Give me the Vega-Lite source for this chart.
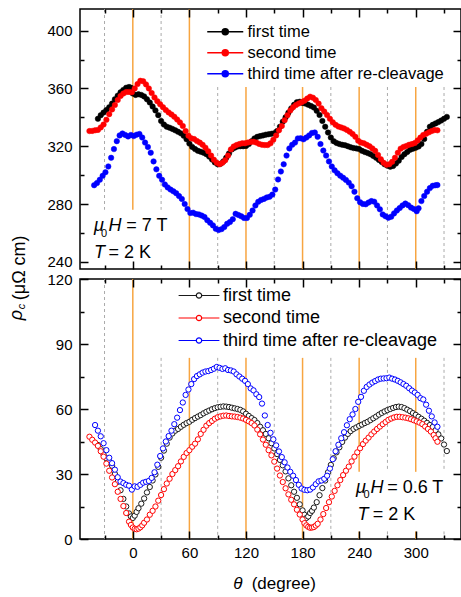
{
"$schema":"https://vega.github.io/schema/vega-lite/v6.json",
"padding":{"left":7,"top":7,"right":0,"bottom":0},
"background":"white",
"config":{"view":{"stroke":"#000","strokeWidth":1.5},"font":"Liberation Sans"},
"spacing":10,
"bounds":"flush",
"datasets":{
"top":[
{"s":"a","x":-37,"y":339.0},{"s":"a","x":-34,"y":341.5},{"s":"a","x":-31,"y":343.3},{"s":"a","x":-28,"y":345.0},{"s":"a","x":-25,"y":347.0},{"s":"a","x":-22,"y":349.5},{"s":"a","x":-19,"y":352.5},{"s":"a","x":-16,"y":355.0},{"s":"a","x":-13,"y":357.3},{"s":"a","x":-10,"y":359.0},{"s":"a","x":-7,"y":360.5},{"s":"a","x":-4,"y":361.0},{"s":"a","x":-2,"y":360.5},{"s":"a","x":0,"y":356.5},{"s":"a","x":3,"y":355.5},{"s":"a","x":6,"y":356.0},{"s":"a","x":9,"y":355.5},{"s":"a","x":12,"y":354.5},{"s":"a","x":15,"y":352.5},{"s":"a","x":18,"y":350.3},{"s":"a","x":21,"y":347.5},{"s":"a","x":24,"y":344.8},{"s":"a","x":27,"y":341.5},{"s":"a","x":30,"y":337.5},{"s":"a","x":33,"y":335.0},{"s":"a","x":36,"y":333.5},{"s":"a","x":39,"y":332.8},{"s":"a","x":42,"y":332.0},{"s":"a","x":45,"y":331.0},{"s":"a","x":48,"y":330.0},{"s":"a","x":51,"y":328.9},{"s":"a","x":54,"y":327.2},{"s":"a","x":57,"y":324.8},{"s":"a","x":60,"y":321.8},{"s":"a","x":63,"y":319.5},{"s":"a","x":66,"y":318.0},{"s":"a","x":69,"y":316.8},{"s":"a","x":72,"y":316.2},{"s":"a","x":75,"y":315.5},{"s":"a","x":78,"y":314.5},{"s":"a","x":81,"y":312.8},{"s":"a","x":84,"y":310.8},{"s":"a","x":87,"y":308.8},{"s":"a","x":90,"y":307.5},{"s":"a","x":93,"y":307.8},{"s":"a","x":96,"y":309.5},{"s":"a","x":99,"y":312.0},{"s":"a","x":102,"y":315.0},{"s":"a","x":105,"y":317.8},{"s":"a","x":108,"y":319.0},{"s":"a","x":111,"y":319.8},{"s":"a","x":114,"y":320.0},{"s":"a","x":117,"y":320.0},{"s":"a","x":120,"y":320.2},{"s":"a","x":123,"y":321.5},{"s":"a","x":126,"y":323.5},{"s":"a","x":129,"y":325.4},{"s":"a","x":132,"y":326.5},{"s":"a","x":135,"y":327.0},{"s":"a","x":138,"y":327.5},{"s":"a","x":141,"y":328.0},{"s":"a","x":144,"y":328.3},{"s":"a","x":147,"y":328.6},{"s":"a","x":150,"y":329.0},{"s":"a","x":153,"y":330.5},{"s":"a","x":156,"y":333.5},{"s":"a","x":159,"y":337.0},{"s":"a","x":162,"y":340.0},{"s":"a","x":165,"y":343.2},{"s":"a","x":168,"y":346.2},{"s":"a","x":171,"y":348.7},{"s":"a","x":174,"y":350.5},{"s":"a","x":177,"y":350.8},{"s":"a","x":180,"y":350.0},{"s":"a","x":183,"y":349.5},{"s":"a","x":186,"y":348.7},{"s":"a","x":189,"y":347.8},{"s":"a","x":192,"y":346.8},{"s":"a","x":195,"y":344.5},{"s":"a","x":198,"y":341.6},{"s":"a","x":201,"y":337.5},{"s":"a","x":204,"y":333.5},{"s":"a","x":207,"y":329.5},{"s":"a","x":210,"y":326.0},{"s":"a","x":213,"y":323.5},{"s":"a","x":216,"y":322.3},{"s":"a","x":219,"y":321.5},{"s":"a","x":222,"y":321.0},{"s":"a","x":225,"y":320.7},{"s":"a","x":228,"y":320.0},{"s":"a","x":231,"y":319.3},{"s":"a","x":234,"y":318.7},{"s":"a","x":237,"y":318.5},{"s":"a","x":240,"y":318.0},{"s":"a","x":243,"y":316.8},{"s":"a","x":246,"y":316.0},{"s":"a","x":249,"y":315.3},{"s":"a","x":252,"y":314.5},{"s":"a","x":255,"y":313.3},{"s":"a","x":258,"y":312.0},{"s":"a","x":261,"y":310.5},{"s":"a","x":264,"y":309.0},{"s":"a","x":267,"y":307.5},{"s":"a","x":270,"y":306.5},{"s":"a","x":273,"y":305.8},{"s":"a","x":276,"y":306.3},{"s":"a","x":279,"y":308.0},{"s":"a","x":282,"y":310.0},{"s":"a","x":285,"y":312.5},{"s":"a","x":288,"y":314.5},{"s":"a","x":291,"y":316.0},{"s":"a","x":294,"y":317.5},{"s":"a","x":297,"y":318.3},{"s":"a","x":300,"y":319.0},{"s":"a","x":303,"y":319.8},{"s":"a","x":306,"y":321.5},{"s":"a","x":309,"y":325.0},{"s":"a","x":312,"y":330.0},{"s":"a","x":315,"y":333.5},{"s":"a","x":318,"y":334.8},{"s":"a","x":321,"y":335.8},{"s":"a","x":324,"y":336.7},{"s":"a","x":327,"y":337.8},{"s":"a","x":330,"y":339.0},{"s":"a","x":333,"y":340.3},
{"s":"b","x":-46,"y":330.5},{"s":"b","x":-43,"y":330.6},{"s":"b","x":-40,"y":331.0},{"s":"b","x":-37,"y":331.3},{"s":"b","x":-34,"y":333.0},{"s":"b","x":-31,"y":335.0},{"s":"b","x":-28,"y":338.3},{"s":"b","x":-25,"y":342.2},{"s":"b","x":-22,"y":345.5},{"s":"b","x":-19,"y":348.5},{"s":"b","x":-16,"y":352.0},{"s":"b","x":-13,"y":354.8},{"s":"b","x":-10,"y":356.5},{"s":"b","x":-7,"y":357.5},{"s":"b","x":-4,"y":357.6},{"s":"b","x":-1,"y":357.3},{"s":"b","x":2,"y":360.0},{"s":"b","x":5,"y":363.0},{"s":"b","x":8,"y":365.3},{"s":"b","x":11,"y":365.0},{"s":"b","x":14,"y":362.8},{"s":"b","x":17,"y":360.0},{"s":"b","x":20,"y":356.8},{"s":"b","x":23,"y":353.8},{"s":"b","x":26,"y":351.2},{"s":"b","x":29,"y":349.0},{"s":"b","x":32,"y":347.0},{"s":"b","x":35,"y":345.0},{"s":"b","x":38,"y":343.4},{"s":"b","x":41,"y":342.0},{"s":"b","x":44,"y":340.4},{"s":"b","x":47,"y":338.5},{"s":"b","x":50,"y":336.5},{"s":"b","x":53,"y":334.0},{"s":"b","x":56,"y":330.5},{"s":"b","x":59,"y":327.3},{"s":"b","x":62,"y":325.5},{"s":"b","x":65,"y":325.0},{"s":"b","x":68,"y":323.6},{"s":"b","x":71,"y":322.5},{"s":"b","x":74,"y":321.0},{"s":"b","x":77,"y":319.0},{"s":"b","x":80,"y":316.5},{"s":"b","x":83,"y":313.5},{"s":"b","x":86,"y":310.7},{"s":"b","x":89,"y":308.5},{"s":"b","x":92,"y":307.5},{"s":"b","x":95,"y":308.5},{"s":"b","x":98,"y":310.3},{"s":"b","x":101,"y":313.5},{"s":"b","x":104,"y":317.8},{"s":"b","x":107,"y":319.8},{"s":"b","x":110,"y":320.8},{"s":"b","x":113,"y":321.5},{"s":"b","x":116,"y":322.0},{"s":"b","x":119,"y":322.0},{"s":"b","x":122,"y":322.5},{"s":"b","x":125,"y":323.0},{"s":"b","x":128,"y":323.1},{"s":"b","x":131,"y":322.5},{"s":"b","x":134,"y":321.6},{"s":"b","x":137,"y":321.0},{"s":"b","x":140,"y":320.8},{"s":"b","x":143,"y":320.8},{"s":"b","x":146,"y":322.0},{"s":"b","x":149,"y":324.5},{"s":"b","x":152,"y":327.5},{"s":"b","x":155,"y":331.0},{"s":"b","x":158,"y":334.0},{"s":"b","x":161,"y":338.0},{"s":"b","x":164,"y":341.5},{"s":"b","x":167,"y":344.8},{"s":"b","x":170,"y":347.0},{"s":"b","x":173,"y":348.5},{"s":"b","x":176,"y":349.6},{"s":"b","x":179,"y":350.5},{"s":"b","x":182,"y":351.5},{"s":"b","x":185,"y":353.0},{"s":"b","x":188,"y":354.3},{"s":"b","x":191,"y":353.6},{"s":"b","x":194,"y":352.0},{"s":"b","x":197,"y":349.5},{"s":"b","x":200,"y":346.3},{"s":"b","x":203,"y":344.0},{"s":"b","x":206,"y":341.6},{"s":"b","x":209,"y":339.0},{"s":"b","x":212,"y":336.6},{"s":"b","x":215,"y":334.8},{"s":"b","x":218,"y":333.6},{"s":"b","x":221,"y":333.0},{"s":"b","x":224,"y":332.3},{"s":"b","x":227,"y":331.3},{"s":"b","x":230,"y":330.0},{"s":"b","x":233,"y":328.5},{"s":"b","x":236,"y":326.5},{"s":"b","x":239,"y":323.8},{"s":"b","x":242,"y":322.5},{"s":"b","x":245,"y":322.0},{"s":"b","x":248,"y":321.0},{"s":"b","x":251,"y":320.0},{"s":"b","x":254,"y":318.5},{"s":"b","x":257,"y":316.8},{"s":"b","x":260,"y":314.0},{"s":"b","x":263,"y":311.0},{"s":"b","x":266,"y":308.5},{"s":"b","x":269,"y":307.2},{"s":"b","x":272,"y":307.5},{"s":"b","x":275,"y":309.2},{"s":"b","x":278,"y":312.0},{"s":"b","x":281,"y":315.5},{"s":"b","x":284,"y":318.3},{"s":"b","x":287,"y":319.5},{"s":"b","x":290,"y":320.2},{"s":"b","x":293,"y":321.0},{"s":"b","x":296,"y":321.5},{"s":"b","x":299,"y":322.2},{"s":"b","x":302,"y":324.0},{"s":"b","x":305,"y":326.0},{"s":"b","x":308,"y":327.8},{"s":"b","x":311,"y":328.6},{"s":"b","x":314,"y":329.6},{"s":"b","x":317,"y":330.5},{"s":"b","x":320,"y":331.2},{"s":"b","x":323,"y":331.0},
{"s":"c","x":-41,"y":293.0},{"s":"c","x":-38,"y":294.5},{"s":"c","x":-35,"y":296.8},{"s":"c","x":-32,"y":299.5},{"s":"c","x":-29,"y":302.0},{"s":"c","x":-26,"y":306.0},{"s":"c","x":-23,"y":312.0},{"s":"c","x":-20,"y":318.0},{"s":"c","x":-17,"y":323.5},{"s":"c","x":-14,"y":327.5},{"s":"c","x":-11,"y":328.8},{"s":"c","x":-8,"y":327.8},{"s":"c","x":-5,"y":326.8},{"s":"c","x":-2,"y":327.8},{"s":"c","x":1,"y":327.0},{"s":"c","x":4,"y":328.0},{"s":"c","x":7,"y":328.5},{"s":"c","x":10,"y":326.0},{"s":"c","x":13,"y":322.5},{"s":"c","x":16,"y":319.5},{"s":"c","x":19,"y":315.5},{"s":"c","x":22,"y":309.5},{"s":"c","x":25,"y":304.0},{"s":"c","x":28,"y":299.5},{"s":"c","x":31,"y":296.8},{"s":"c","x":34,"y":293.5},{"s":"c","x":37,"y":291.5},{"s":"c","x":40,"y":290.0},{"s":"c","x":43,"y":288.8},{"s":"c","x":46,"y":287.5},{"s":"c","x":49,"y":285.5},{"s":"c","x":52,"y":283.5},{"s":"c","x":55,"y":280.0},{"s":"c","x":58,"y":276.5},{"s":"c","x":61,"y":273.8},{"s":"c","x":64,"y":274.0},{"s":"c","x":67,"y":273.0},{"s":"c","x":70,"y":272.8},{"s":"c","x":73,"y":272.0},{"s":"c","x":76,"y":271.0},{"s":"c","x":79,"y":268.8},{"s":"c","x":82,"y":267.0},{"s":"c","x":85,"y":265.2},{"s":"c","x":88,"y":262.8},{"s":"c","x":91,"y":262.0},{"s":"c","x":94,"y":262.6},{"s":"c","x":97,"y":264.0},{"s":"c","x":100,"y":266.3},{"s":"c","x":103,"y":267.5},{"s":"c","x":106,"y":269.5},{"s":"c","x":109,"y":273.2},{"s":"c","x":112,"y":272.4},{"s":"c","x":115,"y":271.5},{"s":"c","x":118,"y":270.3},{"s":"c","x":121,"y":270.3},{"s":"c","x":124,"y":272.5},{"s":"c","x":127,"y":275.5},{"s":"c","x":130,"y":279.0},{"s":"c","x":133,"y":281.5},{"s":"c","x":136,"y":282.8},{"s":"c","x":139,"y":283.5},{"s":"c","x":142,"y":284.5},{"s":"c","x":145,"y":285.0},{"s":"c","x":148,"y":286.5},{"s":"c","x":151,"y":290.0},{"s":"c","x":154,"y":297.0},{"s":"c","x":157,"y":302.5},{"s":"c","x":160,"y":307.5},{"s":"c","x":163,"y":313.5},{"s":"c","x":166,"y":318.5},{"s":"c","x":169,"y":321.0},{"s":"c","x":172,"y":322.5},{"s":"c","x":175,"y":325.4},{"s":"c","x":178,"y":325.5},{"s":"c","x":181,"y":324.8},{"s":"c","x":184,"y":326.0},{"s":"c","x":187,"y":327.5},{"s":"c","x":190,"y":329.2},{"s":"c","x":193,"y":329.5},{"s":"c","x":196,"y":326.5},{"s":"c","x":199,"y":321.5},{"s":"c","x":202,"y":317.0},{"s":"c","x":205,"y":313.5},{"s":"c","x":208,"y":309.5},{"s":"c","x":211,"y":306.0},{"s":"c","x":214,"y":303.3},{"s":"c","x":217,"y":301.3},{"s":"c","x":220,"y":299.6},{"s":"c","x":223,"y":298.2},{"s":"c","x":226,"y":296.7},{"s":"c","x":229,"y":294.8},{"s":"c","x":232,"y":292.3},{"s":"c","x":235,"y":288.5},{"s":"c","x":238,"y":284.0},{"s":"c","x":241,"y":281.2},{"s":"c","x":244,"y":280.0},{"s":"c","x":247,"y":279.8},{"s":"c","x":250,"y":281.0},{"s":"c","x":253,"y":282.0},{"s":"c","x":256,"y":281.6},{"s":"c","x":259,"y":279.0},{"s":"c","x":262,"y":276.3},{"s":"c","x":265,"y":272.8},{"s":"c","x":268,"y":271.5},{"s":"c","x":271,"y":270.5},{"s":"c","x":274,"y":271.2},{"s":"c","x":277,"y":273.5},{"s":"c","x":280,"y":275.5},{"s":"c","x":283,"y":277.2},{"s":"c","x":286,"y":279.0},{"s":"c","x":289,"y":280.3},{"s":"c","x":292,"y":279.2},{"s":"c","x":295,"y":277.5},{"s":"c","x":298,"y":276.6},{"s":"c","x":301,"y":275.0},{"s":"c","x":303,"y":277.0},{"s":"c","x":306,"y":282.0},{"s":"c","x":309,"y":285.5},{"s":"c","x":312,"y":288.5},{"s":"c","x":315,"y":291.0},{"s":"c","x":318,"y":292.6},{"s":"c","x":321,"y":293.0},{"s":"c","x":323,"y":293.1}
],
"bot":[
{"s":"a","x":-37,"y":43.4},{"s":"a","x":-34,"y":41.5},{"s":"a","x":-31,"y":39.0},{"s":"a","x":-28,"y":37.2},{"s":"a","x":-25,"y":35.8},{"s":"a","x":-22,"y":33.8},{"s":"a","x":-19,"y":30.0},{"s":"a","x":-16,"y":26.4},{"s":"a","x":-13,"y":22.5},{"s":"a","x":-10,"y":18.5},{"s":"a","x":-7,"y":15.0},{"s":"a","x":-4,"y":11.8},{"s":"a","x":-2,"y":10.4},{"s":"a","x":0,"y":9.7},{"s":"a","x":2,"y":10.8},{"s":"a","x":4,"y":12.5},{"s":"a","x":6,"y":14.2},{"s":"a","x":9,"y":16.3},{"s":"a","x":12,"y":18.7},{"s":"a","x":15,"y":21.5},{"s":"a","x":18,"y":24.0},{"s":"a","x":21,"y":27.0},{"s":"a","x":24,"y":29.8},{"s":"a","x":27,"y":33.3},{"s":"a","x":30,"y":37.5},{"s":"a","x":33,"y":40.8},{"s":"a","x":36,"y":44.0},{"s":"a","x":39,"y":46.8},{"s":"a","x":42,"y":48.7},{"s":"a","x":45,"y":50.0},{"s":"a","x":48,"y":50.8},{"s":"a","x":51,"y":51.8},{"s":"a","x":54,"y":52.7},{"s":"a","x":57,"y":53.5},{"s":"a","x":60,"y":54.1},{"s":"a","x":63,"y":55.0},{"s":"a","x":66,"y":55.8},{"s":"a","x":69,"y":56.5},{"s":"a","x":72,"y":57.2},{"s":"a","x":75,"y":58.0},{"s":"a","x":78,"y":58.7},{"s":"a","x":81,"y":59.3},{"s":"a","x":84,"y":59.9},{"s":"a","x":87,"y":60.4},{"s":"a","x":90,"y":60.8},{"s":"a","x":93,"y":61.0},{"s":"a","x":96,"y":61.2},{"s":"a","x":99,"y":61.1},{"s":"a","x":102,"y":60.9},{"s":"a","x":105,"y":60.6},{"s":"a","x":108,"y":60.3},{"s":"a","x":111,"y":60.0},{"s":"a","x":114,"y":59.6},{"s":"a","x":117,"y":58.9},{"s":"a","x":120,"y":57.8},{"s":"a","x":123,"y":56.8},{"s":"a","x":126,"y":55.8},{"s":"a","x":129,"y":54.9},{"s":"a","x":132,"y":53.5},{"s":"a","x":135,"y":51.8},{"s":"a","x":138,"y":50.2},{"s":"a","x":141,"y":48.5},{"s":"a","x":144,"y":46.5},{"s":"a","x":147,"y":44.2},{"s":"a","x":150,"y":41.8},{"s":"a","x":153,"y":39.2},{"s":"a","x":156,"y":36.5},{"s":"a","x":159,"y":34.0},{"s":"a","x":162,"y":31.2},{"s":"a","x":165,"y":28.0},{"s":"a","x":168,"y":24.8},{"s":"a","x":171,"y":21.8},{"s":"a","x":174,"y":19.0},{"s":"a","x":177,"y":16.0},{"s":"a","x":180,"y":13.2},{"s":"a","x":182,"y":11.2},{"s":"a","x":184,"y":9.7},{"s":"a","x":186,"y":10.4},{"s":"a","x":188,"y":12.0},{"s":"a","x":190,"y":13.0},{"s":"a","x":192,"y":14.5},{"s":"a","x":195,"y":17.0},{"s":"a","x":198,"y":20.2},{"s":"a","x":201,"y":23.5},{"s":"a","x":204,"y":27.0},{"s":"a","x":207,"y":30.8},{"s":"a","x":210,"y":34.2},{"s":"a","x":213,"y":37.3},{"s":"a","x":216,"y":40.0},{"s":"a","x":219,"y":42.3},{"s":"a","x":222,"y":44.8},{"s":"a","x":225,"y":46.8},{"s":"a","x":228,"y":48.5},{"s":"a","x":231,"y":49.8},{"s":"a","x":234,"y":50.8},{"s":"a","x":237,"y":51.5},{"s":"a","x":240,"y":52.2},{"s":"a","x":243,"y":52.8},{"s":"a","x":246,"y":53.5},{"s":"a","x":249,"y":54.1},{"s":"a","x":252,"y":54.9},{"s":"a","x":255,"y":55.7},{"s":"a","x":258,"y":56.5},{"s":"a","x":261,"y":57.4},{"s":"a","x":264,"y":58.2},{"s":"a","x":267,"y":58.9},{"s":"a","x":270,"y":59.5},{"s":"a","x":273,"y":60.0},{"s":"a","x":276,"y":60.5},{"s":"a","x":279,"y":60.9},{"s":"a","x":282,"y":61.1},{"s":"a","x":285,"y":60.9},{"s":"a","x":288,"y":60.4},{"s":"a","x":291,"y":59.7},{"s":"a","x":294,"y":59.0},{"s":"a","x":297,"y":58.1},{"s":"a","x":300,"y":57.3},{"s":"a","x":303,"y":56.4},{"s":"a","x":306,"y":55.5},{"s":"a","x":309,"y":54.6},{"s":"a","x":312,"y":53.6},{"s":"a","x":315,"y":52.6},{"s":"a","x":318,"y":51.7},{"s":"a","x":321,"y":50.2},{"s":"a","x":324,"y":48.3},{"s":"a","x":327,"y":46.4},{"s":"a","x":330,"y":43.6},{"s":"a","x":333,"y":40.6},
{"s":"b","x":-46,"y":47.2},{"s":"b","x":-43,"y":45.8},{"s":"b","x":-40,"y":44.5},{"s":"b","x":-37,"y":43.0},{"s":"b","x":-34,"y":40.5},{"s":"b","x":-31,"y":38.0},{"s":"b","x":-28,"y":34.8},{"s":"b","x":-25,"y":31.5},{"s":"b","x":-22,"y":28.4},{"s":"b","x":-19,"y":25.3},{"s":"b","x":-16,"y":21.8},{"s":"b","x":-13,"y":18.5},{"s":"b","x":-10,"y":15.2},{"s":"b","x":-7,"y":12.0},{"s":"b","x":-4,"y":8.0},{"s":"b","x":-2,"y":6.5},{"s":"b","x":0,"y":5.3},{"s":"b","x":2,"y":4.7},{"s":"b","x":4,"y":4.5},{"s":"b","x":6,"y":4.8},{"s":"b","x":8,"y":5.4},{"s":"b","x":10,"y":6.3},{"s":"b","x":12,"y":7.5},{"s":"b","x":15,"y":9.0},{"s":"b","x":18,"y":11.2},{"s":"b","x":21,"y":13.0},{"s":"b","x":24,"y":15.0},{"s":"b","x":27,"y":17.7},{"s":"b","x":30,"y":20.3},{"s":"b","x":33,"y":23.0},{"s":"b","x":36,"y":25.6},{"s":"b","x":39,"y":27.8},{"s":"b","x":42,"y":30.0},{"s":"b","x":45,"y":31.8},{"s":"b","x":48,"y":33.6},{"s":"b","x":51,"y":35.8},{"s":"b","x":54,"y":37.9},{"s":"b","x":57,"y":39.7},{"s":"b","x":60,"y":41.0},{"s":"b","x":63,"y":42.6},{"s":"b","x":66,"y":44.0},{"s":"b","x":69,"y":46.0},{"s":"b","x":72,"y":48.5},{"s":"b","x":75,"y":50.4},{"s":"b","x":78,"y":52.3},{"s":"b","x":81,"y":53.5},{"s":"b","x":84,"y":54.5},{"s":"b","x":87,"y":55.5},{"s":"b","x":90,"y":56.2},{"s":"b","x":93,"y":56.6},{"s":"b","x":96,"y":56.9},{"s":"b","x":99,"y":57.0},{"s":"b","x":102,"y":56.8},{"s":"b","x":105,"y":56.6},{"s":"b","x":108,"y":56.5},{"s":"b","x":111,"y":56.3},{"s":"b","x":114,"y":56.0},{"s":"b","x":117,"y":55.6},{"s":"b","x":120,"y":55.0},{"s":"b","x":123,"y":54.3},{"s":"b","x":126,"y":53.5},{"s":"b","x":129,"y":52.4},{"s":"b","x":132,"y":50.5},{"s":"b","x":135,"y":48.3},{"s":"b","x":138,"y":45.9},{"s":"b","x":141,"y":43.5},{"s":"b","x":144,"y":41.0},{"s":"b","x":147,"y":38.6},{"s":"b","x":150,"y":35.7},{"s":"b","x":153,"y":32.5},{"s":"b","x":156,"y":29.3},{"s":"b","x":159,"y":26.3},{"s":"b","x":162,"y":23.4},{"s":"b","x":165,"y":20.6},{"s":"b","x":168,"y":18.1},{"s":"b","x":171,"y":16.0},{"s":"b","x":174,"y":13.5},{"s":"b","x":177,"y":11.3},{"s":"b","x":180,"y":9.0},{"s":"b","x":182,"y":7.3},{"s":"b","x":184,"y":6.3},{"s":"b","x":186,"y":5.6},{"s":"b","x":188,"y":5.2},{"s":"b","x":190,"y":5.3},{"s":"b","x":192,"y":5.5},{"s":"b","x":194,"y":6.2},{"s":"b","x":196,"y":7.0},{"s":"b","x":199,"y":9.0},{"s":"b","x":202,"y":11.5},{"s":"b","x":205,"y":14.3},{"s":"b","x":208,"y":17.0},{"s":"b","x":211,"y":19.6},{"s":"b","x":214,"y":22.2},{"s":"b","x":217,"y":24.8},{"s":"b","x":220,"y":27.2},{"s":"b","x":223,"y":29.5},{"s":"b","x":226,"y":31.5},{"s":"b","x":229,"y":33.4},{"s":"b","x":232,"y":35.8},{"s":"b","x":235,"y":38.0},{"s":"b","x":238,"y":40.0},{"s":"b","x":241,"y":41.9},{"s":"b","x":244,"y":43.8},{"s":"b","x":247,"y":45.4},{"s":"b","x":250,"y":46.8},{"s":"b","x":253,"y":48.3},{"s":"b","x":256,"y":49.6},{"s":"b","x":259,"y":50.8},{"s":"b","x":262,"y":51.9},{"s":"b","x":265,"y":53.0},{"s":"b","x":268,"y":54.0},{"s":"b","x":271,"y":55.0},{"s":"b","x":274,"y":55.6},{"s":"b","x":277,"y":56.1},{"s":"b","x":280,"y":56.4},{"s":"b","x":283,"y":56.4},{"s":"b","x":286,"y":56.2},{"s":"b","x":289,"y":56.0},{"s":"b","x":292,"y":55.7},{"s":"b","x":295,"y":55.3},{"s":"b","x":298,"y":54.8},{"s":"b","x":301,"y":54.3},{"s":"b","x":304,"y":53.7},{"s":"b","x":307,"y":53.0},{"s":"b","x":310,"y":51.9},{"s":"b","x":313,"y":50.8},{"s":"b","x":316,"y":49.6},{"s":"b","x":319,"y":48.0},{"s":"b","x":321,"y":46.5},{"s":"b","x":323,"y":44.9},
{"s":"c","x":-40,"y":52.6},{"s":"c","x":-37,"y":50.0},{"s":"c","x":-34,"y":47.4},{"s":"c","x":-31,"y":44.2},{"s":"c","x":-28,"y":41.0},{"s":"c","x":-25,"y":37.5},{"s":"c","x":-22,"y":35.0},{"s":"c","x":-19,"y":32.0},{"s":"c","x":-16,"y":28.5},{"s":"c","x":-13,"y":26.5},{"s":"c","x":-10,"y":25.8},{"s":"c","x":-7,"y":25.0},{"s":"c","x":-4,"y":24.6},{"s":"c","x":-1,"y":22.8},{"s":"c","x":2,"y":24.3},{"s":"c","x":5,"y":24.1},{"s":"c","x":8,"y":25.0},{"s":"c","x":11,"y":26.0},{"s":"c","x":14,"y":26.4},{"s":"c","x":17,"y":26.8},{"s":"c","x":20,"y":28.2},{"s":"c","x":23,"y":30.8},{"s":"c","x":26,"y":34.3},{"s":"c","x":29,"y":38.3},{"s":"c","x":32,"y":41.8},{"s":"c","x":35,"y":45.0},{"s":"c","x":38,"y":47.5},{"s":"c","x":41,"y":50.0},{"s":"c","x":44,"y":53.0},{"s":"c","x":47,"y":56.0},{"s":"c","x":50,"y":59.5},{"s":"c","x":53,"y":63.0},{"s":"c","x":56,"y":66.5},{"s":"c","x":59,"y":69.0},{"s":"c","x":62,"y":71.5},{"s":"c","x":65,"y":73.8},{"s":"c","x":68,"y":75.2},{"s":"c","x":71,"y":76.0},{"s":"c","x":74,"y":76.8},{"s":"c","x":77,"y":77.3},{"s":"c","x":80,"y":77.5},{"s":"c","x":83,"y":78.0},{"s":"c","x":86,"y":78.6},{"s":"c","x":89,"y":79.4},{"s":"c","x":92,"y":79.0},{"s":"c","x":95,"y":78.5},{"s":"c","x":98,"y":78.8},{"s":"c","x":101,"y":78.0},{"s":"c","x":104,"y":77.8},{"s":"c","x":107,"y":77.3},{"s":"c","x":110,"y":76.0},{"s":"c","x":113,"y":75.0},{"s":"c","x":116,"y":74.0},{"s":"c","x":119,"y":73.0},{"s":"c","x":122,"y":71.5},{"s":"c","x":125,"y":69.5},{"s":"c","x":128,"y":68.6},{"s":"c","x":131,"y":66.8},{"s":"c","x":134,"y":65.5},{"s":"c","x":137,"y":62.5},{"s":"c","x":140,"y":57.0},{"s":"c","x":143,"y":52.6},{"s":"c","x":146,"y":49.0},{"s":"c","x":149,"y":46.0},{"s":"c","x":152,"y":43.2},{"s":"c","x":155,"y":40.4},{"s":"c","x":158,"y":37.8},{"s":"c","x":161,"y":35.4},{"s":"c","x":164,"y":33.0},{"s":"c","x":167,"y":31.0},{"s":"c","x":170,"y":29.2},{"s":"c","x":173,"y":27.2},{"s":"c","x":176,"y":25.0},{"s":"c","x":179,"y":23.3},{"s":"c","x":182,"y":22.7},{"s":"c","x":185,"y":22.5},{"s":"c","x":188,"y":22.8},{"s":"c","x":191,"y":23.8},{"s":"c","x":194,"y":25.3},{"s":"c","x":197,"y":26.6},{"s":"c","x":200,"y":27.0},{"s":"c","x":203,"y":27.8},{"s":"c","x":206,"y":29.2},{"s":"c","x":209,"y":32.5},{"s":"c","x":212,"y":36.8},{"s":"c","x":215,"y":40.5},{"s":"c","x":218,"y":43.5},{"s":"c","x":221,"y":46.5},{"s":"c","x":224,"y":49.3},{"s":"c","x":227,"y":52.5},{"s":"c","x":230,"y":55.3},{"s":"c","x":233,"y":57.5},{"s":"c","x":236,"y":60.0},{"s":"c","x":239,"y":63.3},{"s":"c","x":242,"y":65.6},{"s":"c","x":245,"y":68.4},{"s":"c","x":248,"y":70.2},{"s":"c","x":251,"y":71.3},{"s":"c","x":254,"y":72.2},{"s":"c","x":257,"y":72.9},{"s":"c","x":260,"y":73.6},{"s":"c","x":263,"y":74.0},{"s":"c","x":266,"y":74.1},{"s":"c","x":269,"y":74.2},{"s":"c","x":272,"y":74.5},{"s":"c","x":275,"y":74.0},{"s":"c","x":278,"y":73.6},{"s":"c","x":281,"y":73.0},{"s":"c","x":284,"y":72.3},{"s":"c","x":287,"y":71.5},{"s":"c","x":290,"y":70.7},{"s":"c","x":293,"y":69.6},{"s":"c","x":296,"y":68.5},{"s":"c","x":299,"y":67.6},{"s":"c","x":302,"y":66.5},{"s":"c","x":305,"y":65.0},{"s":"c","x":308,"y":64.4},{"s":"c","x":311,"y":62.0},{"s":"c","x":314,"y":59.2},{"s":"c","x":317,"y":56.6},{"s":"c","x":320,"y":53.8},{"s":"c","x":323,"y":51.8}
]
},
"resolve":{"scale":{"fill":"independent","stroke":"independent"},"legend":{"fill":"independent","stroke":"independent"}},
"vconcat":[
{
"width":381,"height":260,
"resolve":{"axis":{"x":"independent","y":"independent"}},
"layer":[
{"data":{"values":[{"x":0,"y":415,"y2":276},{"x":60,"y":415,"y2":235},{"x":120,"y":361,"y2":235},{"x":180,"y":361,"y2":235},{"x":240,"y":361,"y2":235},{"x":300,"y":361,"y2":235}]},
"mark":{"type":"rule","color":"#F7A541","strokeWidth":1.5},
"encoding":{
"x":{"field":"x","type":"quantitative","scale":{"domain":[-56,348],"nice":false,"zero":false},"axis":{"orient":"bottom","values":[-30,0,30,60,90,120,150,180,210,240,270,300,330],"labels":false,"title":null,"domain":false,"grid":false,"tickColor":"#000","tickWidth":1.5,"tickSize":{"condition":{"test":"datum.value % 60 === 0","value":-8},"value":-4},"zindex":1}},
"y":{"field":"y","type":"quantitative","scale":{"domain":[235,415],"nice":false,"zero":false},"axis":{"orient":"left","values":[240,260,280,300,320,340,360,380,400],"labelExpr":"datum.value % 40 === 0 ? datum.label : ''","labelFont":"Liberation Sans","labelFontSize":15,"labelColor":"#000","labelPadding":16,"labelOverlap":false,"title":null,"domain":false,"grid":false,"tickColor":"#000","tickWidth":1.5,"tickSize":{"condition":{"test":"datum.value % 40 === 0","value":-8},"value":-4},"zindex":1}},
"y2":{"field":"y2"}}},
{"data":{"values":[{"x":-30,"y":415,"y2":276},{"x":30,"y":415,"y2":276},{"x":90,"y":361,"y2":235},{"x":150,"y":361,"y2":235},{"x":210,"y":361,"y2":235},{"x":270,"y":361,"y2":235},{"x":330,"y":361,"y2":235}]},
"mark":{"type":"rule","color":"#AAAAAA","strokeWidth":1,"strokeDash":[3,3]},
"encoding":{"x":{"field":"x","type":"quantitative","axis":null},"y":{"field":"y","type":"quantitative","axis":null},"y2":{"field":"y2"}}},
{"data":{"name":"top"},
"mark":{"type":"point","filled":true,"size":30,"opacity":1,"strokeWidth":0.5},
"encoding":{
"x":{"field":"x","type":"quantitative","axis":{"orient":"top","values":[-30,0,30,60,90,120,150,180,210,240,270,300,330],"labels":false,"title":null,"domain":false,"grid":false,"tickColor":"#000","tickWidth":1.5,"tickSize":{"condition":{"test":"datum.value % 60 === 0","value":-8},"value":-4},"zindex":1}},
"y":{"field":"y","type":"quantitative","axis":{"orient":"right","values":[240,260,280,300,320,340,360,380,400],"labels":false,"title":null,"domain":false,"grid":false,"tickColor":"#000","tickWidth":1.5,"tickSize":{"condition":{"test":"datum.value % 40 === 0","value":-8},"value":-4},"zindex":1}},
"fill":{"field":"s","type":"nominal","scale":{"domain":["a","b","c"],"range":["#000000","#FF0000","#0000FF"]},"legend":{"orient":"none","legendX":137,"legendY":14.5,"title":null,"padding":0,"symbolType":"M-3,0L3,0M-0.5,0A0.5,0.5,0,1,0,0.5,0A0.5,0.5,0,1,0,-0.5,0Z","symbolSize":144,"symbolStrokeWidth":1.5,"labelFont":"Liberation Sans","labelFontSize":16.5,"labelColor":"#000","labelOffset":14,"labelLimit":400,"rowPadding":4,"labelExpr":"datum.label == 'a' ? 'first time' : datum.label == 'b' ? 'second time' : 'third time after re-cleavage'"}},
"stroke":{"field":"s","type":"nominal","scale":{"domain":["a","b","c"],"range":["#000000","#FF0000","#0000FF"]},"legend":{"orient":"none","legendX":137,"legendY":14.5,"title":null,"padding":0,"symbolType":"M-3,0L3,0M-0.5,0A0.5,0.5,0,1,0,0.5,0A0.5,0.5,0,1,0,-0.5,0Z","symbolSize":144,"symbolStrokeWidth":1.5,"labelFont":"Liberation Sans","labelFontSize":16.5,"labelColor":"#000","labelOffset":14,"labelLimit":400,"rowPadding":4,"labelExpr":"datum.label == 'a' ? 'first time' : datum.label == 'b' ? 'second time' : 'third time after re-cleavage'"}}}},
{"data":{"values":[{}]},"mark":{"type":"text","text":"μ","font":"Liberation Sans","fontSize":18,"fontStyle":"italic","align":"left","baseline":"alphabetic","color":"#000"},"encoding":{"x":{"datum":-41.2,"type":"quantitative","axis":null},"y":{"datum":261.3,"type":"quantitative","axis":null}}},
{"data":{"values":[{}]},"mark":{"type":"text","text":"0","font":"Liberation Sans","fontSize":11,"align":"left","baseline":"alphabetic","color":"#000"},"encoding":{"x":{"datum":-33.6,"type":"quantitative","axis":null},"y":{"datum":257.4,"type":"quantitative","axis":null}}},
{"data":{"values":[{}]},"mark":{"type":"text","text":"H","font":"Liberation Sans","fontSize":18,"fontStyle":"italic","align":"left","baseline":"alphabetic","color":"#000"},"encoding":{"x":{"datum":-25.9,"type":"quantitative","axis":null},"y":{"datum":261.3,"type":"quantitative","axis":null}}},
{"data":{"values":[{}]},"mark":{"type":"text","text":"= 7 T","font":"Liberation Sans","fontSize":18,"align":"left","baseline":"alphabetic","color":"#000"},"encoding":{"x":{"datum":-7.0,"type":"quantitative","axis":null},"y":{"datum":261.3,"type":"quantitative","axis":null}}},
{"data":{"values":[{}]},"mark":{"type":"text","text":"T","font":"Liberation Sans","fontSize":18,"fontStyle":"italic","align":"left","baseline":"alphabetic","color":"#000"},"encoding":{"x":{"datum":-41.2,"type":"quantitative","axis":null},"y":{"datum":242.3,"type":"quantitative","axis":null}}},
{"data":{"values":[{}]},"mark":{"type":"text","text":"= 2 K","font":"Liberation Sans","fontSize":18,"align":"left","baseline":"alphabetic","color":"#000"},"encoding":{"x":{"datum":-25.8,"type":"quantitative","axis":null},"y":{"datum":242.3,"type":"quantitative","axis":null}}}
]
},
{
"width":381,"height":260,
"resolve":{"axis":{"x":"independent","y":"independent"}},
"layer":[
{"data":{"values":[{"x":0,"y":120,"y2":0},{"x":60,"y":83.6,"y2":0},{"x":120,"y":83.6,"y2":0},{"x":180,"y":83.6,"y2":0},{"x":240,"y":83.6,"y2":31},{"x":240,"y":3.5,"y2":0},{"x":300,"y":83.6,"y2":31},{"x":300,"y":3.5,"y2":0}]},
"mark":{"type":"rule","color":"#F7A541","strokeWidth":1.5},
"encoding":{
"x":{"field":"x","type":"quantitative","scale":{"domain":[-56,348],"nice":false,"zero":false},"axis":{"orient":"bottom","values":[-30,0,30,60,90,120,150,180,210,240,270,300,330],"labelExpr":"datum.value % 60 === 0 ? datum.label : ''","labelFont":"Liberation Sans","labelFontSize":15,"labelColor":"#000","labelPadding":14,"labelOverlap":false,"title":null,"domain":false,"grid":false,"tickColor":"#000","tickWidth":1.5,"tickSize":{"condition":{"test":"datum.value % 60 === 0","value":-8},"value":-4},"zindex":1}},
"y":{"field":"y","type":"quantitative","scale":{"domain":[0,120],"nice":false,"zero":false},"axis":{"orient":"left","values":[0,15,30,45,60,75,90,105,120],"labelExpr":"datum.value % 30 === 0 ? datum.label : ''","labelFont":"Liberation Sans","labelFontSize":15,"labelColor":"#000","labelPadding":16,"labelOverlap":false,"title":null,"domain":false,"grid":false,"tickColor":"#000","tickWidth":1.5,"tickSize":{"condition":{"test":"datum.value % 30 === 0","value":-8},"value":-4},"zindex":1}},
"y2":{"field":"y2"}}},
{"data":{"values":[{"x":-30,"y":120,"y2":0},{"x":30,"y":83.6,"y2":0},{"x":90,"y":83.6,"y2":0},{"x":150,"y":83.6,"y2":0},{"x":210,"y":83.6,"y2":0},{"x":270,"y":83.6,"y2":31},{"x":270,"y":3.5,"y2":0},{"x":330,"y":83.6,"y2":31},{"x":330,"y":3.5,"y2":0}]},
"mark":{"type":"rule","color":"#AAAAAA","strokeWidth":1,"strokeDash":[3,3]},
"encoding":{"x":{"field":"x","type":"quantitative","axis":null},"y":{"field":"y","type":"quantitative","axis":null},"y2":{"field":"y2"}}},
{"data":{"name":"bot"},
"mark":{"type":"point","filled":false,"fill":"white","size":28,"opacity":1,"strokeWidth":1},
"encoding":{
"x":{"field":"x","type":"quantitative","axis":{"orient":"top","values":[-30,0,30,60,90,120,150,180,210,240,270,300,330],"labels":false,"title":null,"domain":false,"grid":false,"tickColor":"#000","tickWidth":1.5,"tickSize":{"condition":{"test":"datum.value % 60 === 0","value":-8},"value":-4},"zindex":1}},
"y":{"field":"y","type":"quantitative","axis":{"orient":"right","values":[0,15,30,45,60,75,90,105,120],"labels":false,"title":null,"domain":false,"grid":false,"tickColor":"#000","tickWidth":1.5,"tickSize":{"condition":{"test":"datum.value % 30 === 0","value":-8},"value":-4},"zindex":1}},
"stroke":{"field":"s","type":"nominal","scale":{"domain":["a","b","c"],"range":["#1A1A1A","#FF0000","#0000FF"]},"legend":{"orient":"none","legendX":110,"legendY":7.5,"title":null,"padding":0,"symbolType":"M-3.4,0L-0.45,0M0.45,0L3.4,0M-0.45,0A0.45,0.45,0,1,0,0.45,0A0.45,0.45,0,1,0,-0.45,0Z","symbolSize":144,"symbolStrokeWidth":1.2,"symbolFillColor":"white","labelFont":"Liberation Sans","labelFontSize":18,"labelColor":"#000","labelOffset":15,"labelLimit":400,"rowPadding":4.5,"labelExpr":"datum.label == 'a' ? 'first time' : datum.label == 'b' ? 'second time' : 'third time after re-cleavage'"}}}},
{"data":{"values":[{}]},"mark":{"type":"text","text":"μ","font":"Liberation Sans","fontSize":18,"fontStyle":"italic","align":"left","baseline":"alphabetic","color":"#000"},"encoding":{"x":{"datum":236.7,"type":"quantitative","axis":null},"y":{"datum":21.05,"type":"quantitative","axis":null}}},
{"data":{"values":[{}]},"mark":{"type":"text","text":"0","font":"Liberation Sans","fontSize":11,"align":"left","baseline":"alphabetic","color":"#000"},"encoding":{"x":{"datum":244.5,"type":"quantitative","axis":null},"y":{"datum":19.06,"type":"quantitative","axis":null}}},
{"data":{"values":[{}]},"mark":{"type":"text","text":"H","font":"Liberation Sans","fontSize":18,"fontStyle":"italic","align":"left","baseline":"alphabetic","color":"#000"},"encoding":{"x":{"datum":252.0,"type":"quantitative","axis":null},"y":{"datum":21.05,"type":"quantitative","axis":null}}},
{"data":{"values":[{}]},"mark":{"type":"text","text":"= 0.6 T","font":"Liberation Sans","fontSize":18,"align":"left","baseline":"alphabetic","color":"#000"},"encoding":{"x":{"datum":269.7,"type":"quantitative","axis":null},"y":{"datum":21.05,"type":"quantitative","axis":null}}},
{"data":{"values":[{}]},"mark":{"type":"text","text":"T","font":"Liberation Sans","fontSize":18,"fontStyle":"italic","align":"left","baseline":"alphabetic","color":"#000"},"encoding":{"x":{"datum":238.2,"type":"quantitative","axis":null},"y":{"datum":8.77,"type":"quantitative","axis":null}}},
{"data":{"values":[{}]},"mark":{"type":"text","text":"= 2 K","font":"Liberation Sans","fontSize":18,"align":"left","baseline":"alphabetic","color":"#000"},"encoding":{"x":{"datum":254.4,"type":"quantitative","axis":null},"y":{"datum":8.77,"type":"quantitative","axis":null}}},
{"data":{"values":[{}]},"mark":{"type":"text","text":"θ","font":"Liberation Sans","fontSize":17,"fontStyle":"italic","align":"left","baseline":"alphabetic","color":"#000"},"encoding":{"x":{"datum":106.5,"type":"quantitative","axis":null},"y":{"datum":-23.3,"type":"quantitative","axis":null}}},
{"data":{"values":[{}]},"mark":{"type":"text","text":"(degree)","font":"Liberation Sans","fontSize":17,"align":"left","baseline":"alphabetic","color":"#000"},"encoding":{"x":{"datum":126.0,"type":"quantitative","axis":null},"y":{"datum":-23.3,"type":"quantitative","axis":null}}},
{"data":{"values":[{}]},"mark":{"type":"text","text":"ρ","font":"Liberation Sans","fontSize":18,"fontStyle":"italic","angle":270,"align":"left","baseline":"alphabetic","color":"#000"},"encoding":{"x":{"datum":-117.0,"type":"quantitative","axis":null},"y":{"datum":101.0,"type":"quantitative","axis":null}}},
{"data":{"values":[{}]},"mark":{"type":"text","text":"c","font":"Liberation Sans","fontSize":11,"fontStyle":"italic","angle":270,"align":"left","baseline":"alphabetic","color":"#000"},"encoding":{"x":{"datum":-114.3,"type":"quantitative","axis":null},"y":{"datum":106.0,"type":"quantitative","axis":null}}},
{"data":{"values":[{}]},"mark":{"type":"text","text":"(μΩ cm)","font":"Liberation Sans","fontSize":18,"angle":270,"align":"left","baseline":"alphabetic","color":"#000"},"encoding":{"x":{"datum":-114.3,"type":"quantitative","axis":null},"y":{"datum":110.2,"type":"quantitative","axis":null}}}
]
}
]
}
